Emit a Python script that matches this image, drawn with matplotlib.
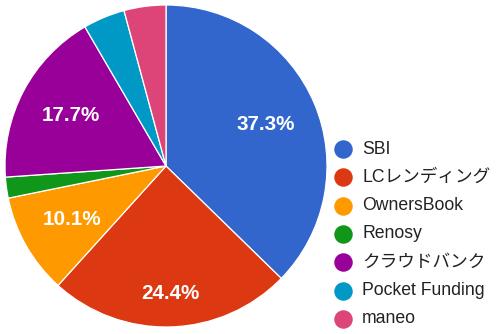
import matplotlib
matplotlib.use("Agg")
import matplotlib.pyplot as plt
from matplotlib.lines import Line2D
import numpy as np

labels = ["SBI", "LCレンディング", "OwnersBook", "Renosy", "クラウドバンク", "Pocket Funding", "maneo"]
values = [37.3, 24.4, 10.1, 2.1, 17.7, 4.2, 4.2]
colors = ["#3366cc", "#dc3912", "#ff9900", "#109618", "#990099", "#0099c6", "#dd4477"]

plt.rcParams['font.family'] = ['Liberation Sans', 'Noto Sans CJK JP', 'DejaVu Sans']

W, H = 496, 334
fig = plt.figure(figsize=(W / 100, H / 100), dpi=100)
cx, cy, r = 166, 166, 161
ax = fig.add_axes([(cx - r) / W, (H - cy - r) / H, 2 * r / W, 2 * r / H])
wedges, _ = ax.pie(values, colors=colors, startangle=90, counterclock=False,
                   radius=1, wedgeprops=dict(edgecolor="white", linewidth=0.9))
ax.set_xlim(-1, 1)
ax.set_ylim(-1, 1)
ax.set_aspect("equal")
ax.axis("off")

total = sum(values)
cum = 0
for i, v in enumerate(values):
    mid = (cum + v / 2) / total * 2 * np.pi
    cum += v
    if v / total < 0.05:
        continue
    d = 0.79 if i == 1 else 0.67
    ax.text(d * np.sin(mid), d * np.cos(mid), f"{v:.1f}%", ha="center", va="center",
            color="white", fontsize=14.9, fontweight="bold")

# legend
lx, ly0, step = 343, 149, 28.3
for i, (lab, c) in enumerate(zip(labels, colors)):
    y = ly0 + i * step
    fig.add_artist(Line2D([lx / W], [1 - y / H], marker="o", markersize=12.3,
                          markerfacecolor=c, markeredgecolor=c, linestyle="none",
                          transform=fig.transFigure))
    fig.text(362 / W, 1 - y / H, lab, ha="left", va="center", fontsize=12.7, color="#222222")

fig.savefig("out.png", dpi=100)
